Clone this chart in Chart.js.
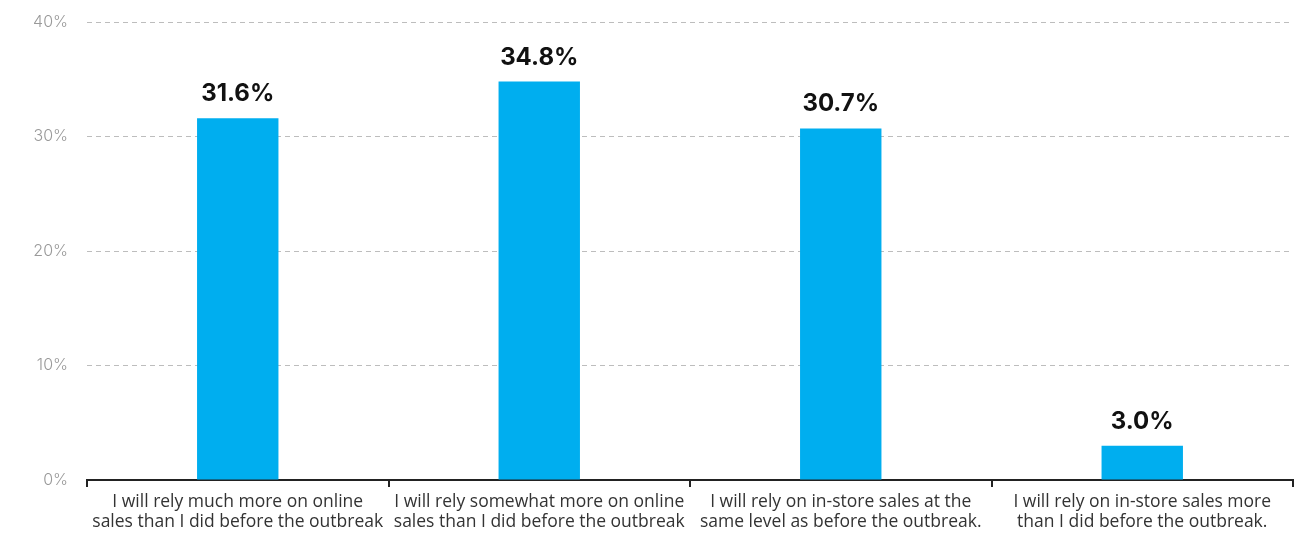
<!DOCTYPE html>
<html>
<head>
<meta charset="utf-8">
<script src="https://cdn.jsdelivr.net/npm/chart.js@4/dist/chart.umd.min.js"></script>
<style>
  html, body { margin: 0; padding: 0; background: #fff; }
  #wrap { width: 1307px; height: 533px; position: relative; }
</style>
</head>
<body>
<div id="wrap"><canvas id="relianceChart"></canvas></div>
<script>
const answers = [
    ['I will rely much more on online', 'sales than I did before the outbreak'],
    ['I will rely somewhat more on online', 'sales than I did before the outbreak'],
    ['I will rely on in-store sales at the', 'same level as before the outbreak.'],
    ['I will rely on in-store sales more', 'than I did before the outbreak.']
];
const shares = [31.6, 34.8, 30.7, 3.0];
const yTicks = [0, 10, 20, 30, 40];

// writes the value over each bar
const valueLabels = {
    id: 'valueLabels',
    afterDatasetsDraw(chart) {
        const ctx = chart.ctx;
        const meta = chart.getDatasetMeta(0);
        ctx.save();
        ctx.font = 'bold 24px Inter, sans-serif';
        ctx.fillStyle = '#111';
        ctx.textAlign = 'center';
        ctx.textBaseline = 'alphabetic';
        meta.data.forEach((bar, i) => {
            ctx.fillText(shares[i].toFixed(1) + '%', bar.x, bar.y - 17);
        });
        ctx.restore();
    }
};

const ctx = document.getElementById('relianceChart').getContext('2d');
new Chart(ctx, {
    type: 'bar',
    data: {
        labels: answers,
        datasets: [{
            data: shares,
            backgroundColor: '#00AEEF',
            barPercentage: 0.54,
            categoryPercentage: 0.5
        }]
    },
    options: {
        responsive: true,
        maintainAspectRatio: false,
        animation: false,
        layout: { padding: { top: 22, right: 14, left: 0, bottom: 0 } },
        plugins: {
            legend: { display: false },
            tooltip: { enabled: false }
        },
        scales: {
            x: {
                offset: true,
                afterFit(scale) {
                    scale.height = 53;
                    scale.paddingLeft = 0;
                    scale.paddingRight = 0;
                },
                grid: {
                    offset: true,
                    drawOnChartArea: false,
                    drawTicks: true,
                    tickLength: 7,
                    color: '#222',
                    lineWidth: 2
                },
                border: { display: true, color: '#222', width: 2 },
                ticks: {
                    autoSkip: false,
                    maxRotation: 0,
                    minRotation: 0,
                    padding: 5,
                    color: '#333',
                    font: { family: 'Open Sans', size: 17.5, lineHeight: 1.15 }
                }
            },
            y: {
                min: 0,
                max: 40,
                afterFit(scale) {
                    scale.width = 87;
                    scale.paddingTop = 0;
                    scale.paddingBottom = 0;
                },
                afterBuildTicks(scale) { scale.ticks = yTicks.map(v => ({ value: v })); },
                grid: {
                    drawTicks: false,
                    color: ctx => ctx.tick && ctx.tick.value === 0 ? 'rgba(0,0,0,0)' : '#bdbdbd',
                    lineWidth: 1
                },
                border: { display: false, dash: [5, 4] },
                ticks: {
                    padding: 19,
                    color: '#9a9a9a',
                    font: { family: 'Inter', size: 16, weight: 300 },
                    callback: v => v + '%'
                }
            }
        }
    },
    plugins: [valueLabels]
});
</script>
</body>
</html>
